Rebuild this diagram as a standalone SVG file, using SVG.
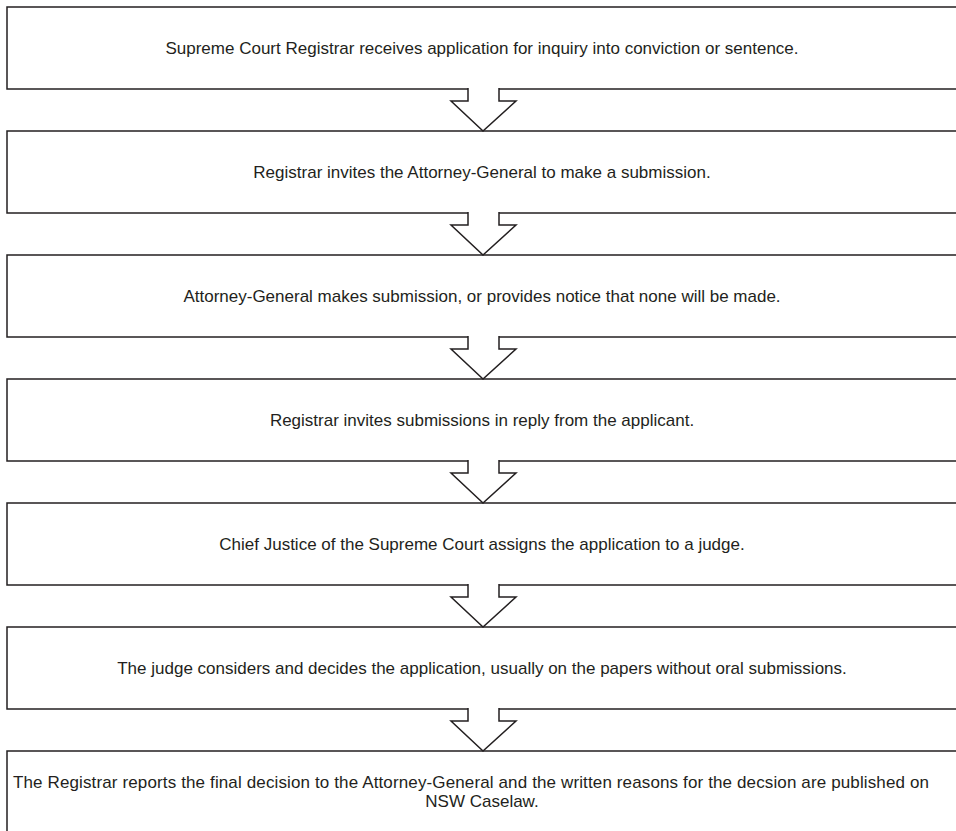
<svg xmlns="http://www.w3.org/2000/svg" width="956" height="831" viewBox="0 0 956 831">
<style>
.box{fill:#fff;stroke:#231f20;stroke-width:1.5}
.t{font-family:"Liberation Sans",Arial,sans-serif;font-size:17px;fill:#231f20;text-anchor:middle}
.arr{fill:#fff;stroke:#231f20;stroke-width:1.5;stroke-linejoin:miter}
</style>
<rect width="956" height="831" fill="#fff"/>
<g id="n1"><rect class="box" x="7" y="7" width="951" height="82"/><text class="t" x="482" y="54">Supreme Court Registrar receives application for inquiry into conviction or sentence.</text></g>
<g id="n2"><rect class="box" x="7" y="131" width="951" height="82"/><text class="t" x="482" y="178">Registrar invites the Attorney-General to make a submission.</text></g>
<g id="n3"><rect class="box" x="7" y="255" width="951" height="82"/><text class="t" x="482" y="302">Attorney-General makes submission, or provides notice that none will be made.</text></g>
<g id="n4"><rect class="box" x="7" y="379" width="951" height="82"/><text class="t" x="482" y="426">Registrar invites submissions in reply from the applicant.</text></g>
<g id="n5"><rect class="box" x="7" y="503" width="951" height="82"/><text class="t" x="482" y="550">Chief Justice of the Supreme Court assigns the application to a judge.</text></g>
<g id="n6"><rect class="box" x="7" y="627" width="951" height="82"/><text class="t" x="482" y="674">The judge considers and decides the application, usually on the papers without oral submissions.</text></g>
<g id="n7"><rect class="box" x="7" y="751" width="951" height="82"/><text class="t" x="471" y="788" textLength="916" lengthAdjust="spacing">The Registrar reports the final decision to the Attorney-General and the written reasons for the decsion are published on</text><text class="t" x="482" y="807">NSW Caselaw.</text></g>
<g id="connectors">
<path class="arr" d="M468,88 V101 H451 L483,131 L516,101 H499 V88"/>
<path class="arr" d="M468,212 V225 H451 L483,255 L516,225 H499 V212"/>
<path class="arr" d="M468,336 V349 H451 L483,379 L516,349 H499 V336"/>
<path class="arr" d="M468,460 V473 H451 L483,503 L516,473 H499 V460"/>
<path class="arr" d="M468,584 V597 H451 L483,627 L516,597 H499 V584"/>
<path class="arr" d="M468,708 V721 H451 L483,751 L516,721 H499 V708"/>
</g>
</svg>
